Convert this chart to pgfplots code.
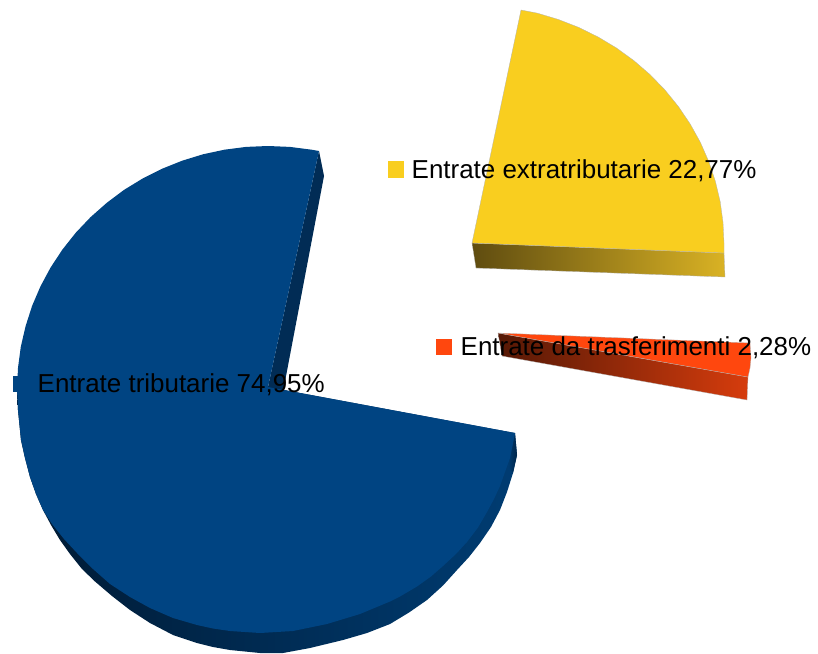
\documentclass[border=0pt]{standalone}
\usepackage{pgfplots}
\pgfplotsset{compat=1.18}
\usepackage{fontspec}
\setmainfont{Liberation Sans}
\definecolor{bl}{HTML}{004482}
\definecolor{ye}{HTML}{F9CE1F}
\definecolor{re}{HTML}{FF470E}
\definecolor{bside1}{HTML}{001A33}
\definecolor{bside2}{HTML}{00284F}
\definecolor{bside3}{HTML}{003C72}
\definecolor{bend}{HTML}{00264A}
\definecolor{binner}{HTML}{012C55}
\definecolor{yside1}{HTML}{5F4C10}
\definecolor{yside2}{HTML}{D9B224}
\definecolor{rside1}{HTML}{551805}
\definecolor{rside2}{HTML}{D63C0D}
\begin{document}
\begin{tikzpicture}
\begin{axis}[at={(0,0)},anchor=south west,scale only axis,width=818pt,height=653pt,
 xmin=0,xmax=818,ymin=0,ymax=653,y dir=reverse,axis lines=none,clip=true]
\addplot[draw=none] coordinates {(0,0)(818,653)};
% blue, outer side
\addplot[draw=none,left color=bside1,middle color=bside2,right color=bside3] coordinates {
(17,389)(18,410)(21,440)(25,458)(30,477)(36,494)(43,510)(51,525)(60,540)(70,554)(82,569)(95,581.5)(112,596)(130,610)(150,623)(173,635)(197,643)(213,647)(230,650)(260,653)(283,653)(310,648)(343,640)(367,633)(390,624)(409,612.5)(427,600)(443,585.5)(457,570)(469,557)(480,543)(491,527)(500,510)(507,492)(513,473)(517,455)(515,433)(268,387)} -- cycle;
% blue, dark end at the right
\addplot[draw=none,left color=bside3,right color=bend] coordinates {(515,433)(517,455)(513,473)(508,466)} -- cycle;
% blue, inner side
\addplot[draw=none,fill=binner] coordinates {(319,151)(324,176)(283,392)(268,387)} -- cycle;
% blue, top face
\addplot[draw=none,fill=bl] coordinates {
(319,151)(311.6,149.7)(289.9,146.9)(268,146)(246.1,146.9)(224.4,149.7)(203,154.3)(182.2,160.7)(161.9,168.8)(142.5,178.6)(124,189.9)(106.7,202.9)(90.5,217.2)(75.7,232.8)(62.4,249.6)(50.6,267.5)(40.5,286.3)(32.1,305.9)(25.6,326.1)(20.8,346.8)(18,367.8)(17,389)(18,410)(21,440)(25,458)(30,477)(36,494)(43,510)(52,524)(64,539)(77,553)(93,569)(110,584)(130,597)(150,608)(173,618)(197,625)(213,628.5)(230,631)(260,633)(293,631)(327,624)(360,614)(390,601.5)(400,596.5)(417,586.5)(431,576.5)(443,566)(456,554)(467,542)(478,527.5)(487,512)(494,499)(500,486)(510,458)(515,433)(268,387)} -- cycle;
% yellow side
\addplot[draw=gray!60,line width=0.3pt,left color=yside1,right color=yside2] coordinates {(472,243)(724,253)(725,277)(476,268)} -- cycle;
% yellow face
\addplot[draw=gray!60,line width=0.3pt,fill=ye] coordinates {
(521,10)(537.2,13.1)(558.2,19.4)(578.5,27.3)(598,36.9)(616.5,48)(634,60.7)(650.2,74.7)(665,90)(678.4,106.5)(690.2,124)(700.4,142.4)(708.8,161.6)(715.4,181.4)(720.2,201.7)(723,222.3)(724,243)(724,253)(472,243)} -- cycle;
% red side
\addplot[draw=gray!60,line width=0.3pt,left color=rside1,right color=rside2] coordinates {(498,333)(748,377)(747,400)(502,356)} -- cycle;
% red face
\addplot[draw=gray!60,line width=0.3pt,fill=re] coordinates {(498,333)(750,343)(751,358)(750,368)(748,377)} -- cycle;
% legend keys
\addplot[draw=none,fill=bl] coordinates {(13,376)(29,376)(29,392)(13,392)} -- cycle;
\addplot[draw=none,fill=ye] coordinates {(388,161)(404,161)(404,178)(388,178)} -- cycle;
\addplot[draw=none,fill=re] coordinates {(436,339)(452,339)(452,355)(436,355)} -- cycle;
\node[anchor=base west,inner sep=0pt,font=\fontsize{25.95}{30}\selectfont] at (axis cs:37.5,392) {Entrate tributarie 74,95\%};
\node[anchor=base west,inner sep=0pt,font=\fontsize{25.95}{30}\selectfont] at (axis cs:411.5,178) {Entrate extratributarie 22,77\%};
\node[anchor=base west,inner sep=0pt,font=\fontsize{25.95}{30}\selectfont] at (axis cs:460.5,355) {Entrate da trasferimenti 2,28\%};
\end{axis}
\end{tikzpicture}
\end{document}
